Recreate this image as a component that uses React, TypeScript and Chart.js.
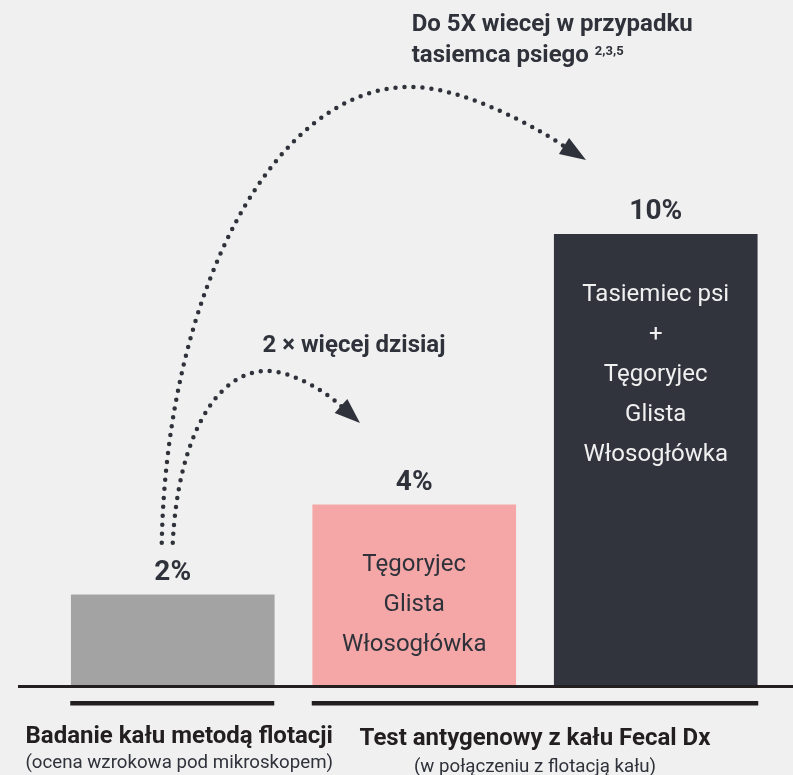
import React, { useEffect, useRef } from 'react';
import { Chart, registerables } from 'chart.js';

Chart.register(...registerables);

// ---- data ----
const categories = ['Flotacja', 'Fecal Dx (4%)', 'Fecal Dx (10%)'];
const values = [2, 4, 10];
const valueLabels = ['2%', '4%', '10%'];
const barColors = ['#a3a3a3', '#f4a7a6', '#31343d'];
const barTextColors = ['#2f323a', '#2f323a', '#f0f0f0'];
const barTexts: string[][] = [
  [],
  ['Tęgoryjec', 'Glista', 'Włosogłówka'],
  ['Tasiemiec psi', '+', 'Tęgoryjec', 'Glista', 'Włosogłówka'],
];
const groupTitles = ['Badanie kału metodą flotacji', 'Test antygenowy z kału Fecal Dx'];
const groupSubtitles = ['(ocena wzrokowa pod mikroskopem)', '(w połączeniu z flotacją kału)'];
const noteSmall = '2 × więcej dzisiaj';
const noteBig = ['Do 5X wiecej w przypadku', 'tasiemca psiego'];
const noteBigSup = '2,3,5';

const FONT = 'Roboto, "Noto Sans", sans-serif';
const TEXT = '#2f323a';
const BG = '#f0f0f0';

type Pt = [number, number];

function dottedPath(ctx: CanvasRenderingContext2D, start: Pt, segs: Pt[][]) {
  ctx.save();
  ctx.strokeStyle = TEXT;
  ctx.lineWidth = 4.5;
  ctx.lineCap = 'round';
  ctx.setLineDash([0, 9]);
  ctx.beginPath();
  ctx.moveTo(start[0], start[1]);
  segs.forEach((s) => ctx.bezierCurveTo(s[0][0], s[0][1], s[1][0], s[1][1], s[2][0], s[2][1]));
  ctx.stroke();
  ctx.restore();
}

function arrowHead(ctx: CanvasRenderingContext2D, base: Pt, tip: Pt, halfW: number) {
  const dx = tip[0] - base[0];
  const dy = tip[1] - base[1];
  const len = Math.hypot(dx, dy);
  const nx = -dy / len;
  const ny = dx / len;
  ctx.save();
  ctx.fillStyle = TEXT;
  ctx.beginPath();
  ctx.moveTo(tip[0], tip[1]);
  ctx.lineTo(base[0] + nx * halfW, base[1] + ny * halfW);
  ctx.lineTo(base[0] - nx * halfW, base[1] - ny * halfW);
  ctx.closePath();
  ctx.fill();
  ctx.restore();
}

const decorPlugin = {
  id: 'decor',
  beforeDraw(chart: any) {
    const ctx = chart.ctx as CanvasRenderingContext2D;
    ctx.save();
    ctx.fillStyle = BG;
    ctx.fillRect(0, 0, chart.width, chart.height);
    ctx.restore();
  },
  afterDatasetsDraw(chart: any) {
    const ctx = chart.ctx as CanvasRenderingContext2D;
    const yScale = chart.scales.y;
    const meta = chart.getDatasetMeta(0);
    const bars = meta.data.map((b: any) => ({
      left: b.x - b.width / 2,
      right: b.x + b.width / 2,
      cx: b.x,
      top: b.y,
    }));
    const base = yScale.getPixelForValue(0);

    ctx.save();
    // baseline
    ctx.fillStyle = '#231f20';
    ctx.fillRect(18, base, chart.width - 18, 3);
    // group underlines
    ctx.fillRect(bars[0].left - 1, base + 16, bars[0].right - bars[0].left + 1, 4.5);
    ctx.fillRect(bars[1].left - 1, base + 16, bars[2].right - bars[1].left + 2, 4.5);

    // value labels
    ctx.textAlign = 'center';
    ctx.textBaseline = 'alphabetic';
    ctx.fillStyle = TEXT;
    ctx.font = `bold 28px ${FONT}`;
    bars.forEach((b: any, i: number) => ctx.fillText(valueLabels[i], b.cx, b.top - 15));

    // texts inside bars
    ctx.font = `24px ${FONT}`;
    bars.forEach((b: any, i: number) => {
      ctx.fillStyle = barTextColors[i];
      barTexts[i].forEach((t, j) => ctx.fillText(t, b.cx, b.top + 66.5 + j * 40));
    });

    // group titles
    ctx.fillStyle = '#231f20';
    ctx.font = `bold 24px ${FONT}`;
    const g0x = bars[0].cx + 6.5;
    const g1x = (bars[1].left + bars[2].right) / 2;
    ctx.fillText(groupTitles[0], g0x, base + 58);
    ctx.fillText(groupTitles[1], g1x, base + 60);
    ctx.fillStyle = '#2f323a';
    ctx.font = `18.7px ${FONT}`;
    ctx.fillText(groupSubtitles[0], g0x, base + 83);
    ctx.fillText(groupSubtitles[1], g1x, base + 87);

    // annotations
    ctx.fillStyle = TEXT;
    ctx.font = `bold 24px ${FONT}`;
    ctx.fillText(noteSmall, (bars[0].right + bars[1].right) / 2 - 41, bars[1].top - 153);
    ctx.textAlign = 'left';
    const nbx = bars[1].cx - 2.5;
    const nby = bars[2].top - 203;
    ctx.fillText(noteBig[0], nbx, nby);
    ctx.fillText(noteBig[1], nbx, nby + 31);
    const w2 = ctx.measureText(noteBig[1] + ' ').width;
    ctx.font = `bold 13px ${FONT}`;
    ctx.fillText(noteBigSup, nbx + w2, nby + 24);
    ctx.restore();

    // dotted arrows
    const sy = bars[0].top - 52;
    const sx = bars[0].cx;
    dottedPath(ctx, [sx - 11, sy], [
      [[sx - 6, 291], [274, 87], [410, 87]],
      [[462, 86], [540, 129], [565, 147]],
    ]);
    arrowHead(ctx, [564, 146], [586, 160], 9.5);

    dottedPath(ctx, [sx, sy], [
      [[sx + 5, 440], [215, 371], [267, 371]],
      [[292, 371], [327, 392], [342, 407]],
    ]);
    arrowHead(ctx, [341, 406], [360, 423], 9.5);
  },
};

export default function App() {
  const ref = useRef<HTMLCanvasElement | null>(null);
  useEffect(() => {
    const canvas = ref.current;
    if (!canvas) return;
    const chart = new Chart(canvas, {
      type: 'bar',
      data: {
        labels: categories,
        datasets: [
          {
            data: values,
            backgroundColor: barColors,
            borderWidth: 0,
            barThickness: 203,
          },
        ],
      },
      options: {
        animation: false,
        responsive: false,
        devicePixelRatio: 1,
        layout: { padding: { left: 52, right: 16.5, top: 9, bottom: 90 } },
        plugins: { legend: { display: false }, tooltip: { enabled: false }, title: { display: false } },
        scales: {
          x: { display: false, grid: { display: false } },
          y: { display: false, min: 0, max: 15, grid: { display: false } },
        },
      },
      plugins: [decorPlugin],
    });
    return () => chart.destroy();
  }, []);
  return (
    <div style={{ position: 'fixed', left: 0, top: 0, width: 793, height: 775, background: BG }}>
      <canvas ref={ref} width={793} height={775} style={{ display: 'block', width: 793, height: 775 }} />
    </div>
  );
}
